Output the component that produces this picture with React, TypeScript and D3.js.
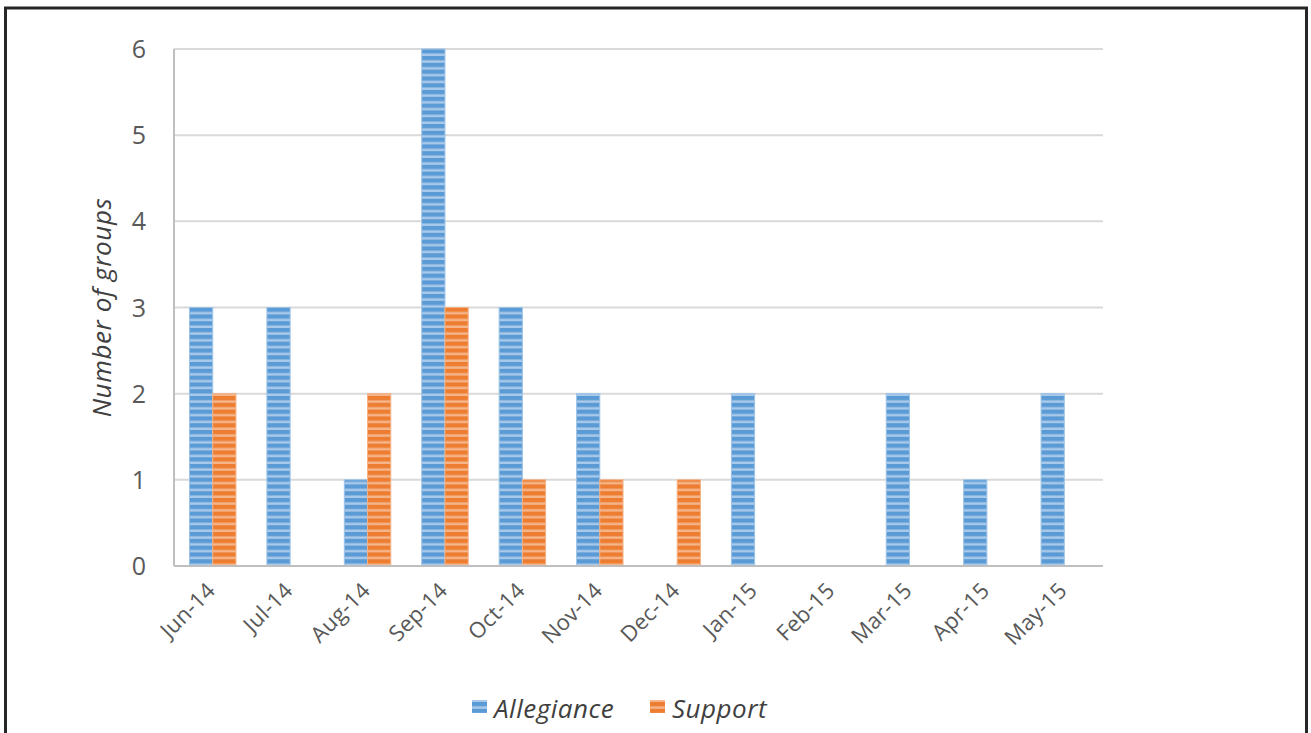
import React from "react";
import * as d3 from "d3";

const categories = ["Jun-14","Jul-14","Aug-14","Sep-14","Oct-14","Nov-14","Dec-14","Jan-15","Feb-15","Mar-15","Apr-15","May-15"];
const allegiance = [3,3,1,6,3,2,0,2,0,2,1,2];
const support = [2,0,2,3,1,1,1,0,0,0,0,0];
const seriesNames = ["Allegiance","Support"];
const yTicks = [0,1,2,3,4,5,6];

const W = 1311, H = 733;
const M = { left: 174, right: 1103, top: 49, bottom: 566 };
const FONT = "'Open Sans', sans-serif";

export default function App() {
  const x = d3.scaleBand<string>().domain(categories).range([M.left, M.right]).paddingInner(0.4).paddingOuter(0.2);
  const x1 = d3.scaleBand<string>().domain(seriesNames).range([0, x.bandwidth()]);
  const y = d3.scaleLinear().domain([0, 6]).range([M.bottom, M.top]);
  const series = [
    { name: "Allegiance", values: allegiance, fill: "url(#pBlue)", stroke: "#9dc3e6" },
    { name: "Support", values: support, fill: "url(#pOrange)", stroke: "#f4b183" },
  ];
  return (
    <svg width={W} height={H} style={{ position: "absolute", left: 0, top: 0, background: "#fff" }}>
      <defs>
        <pattern id="pBlue" patternUnits="userSpaceOnUse" width="8" height="6.8" y={M.bottom}>
          <rect width="8" height="6.8" fill="#5b9bd5" />
          <rect y="4.3" width="8" height="2.5" fill="#a9c9ea" />
        </pattern>
        <pattern id="pOrange" patternUnits="userSpaceOnUse" width="8" height="6.8" y={M.bottom}>
          <rect width="8" height="6.8" fill="#ed7d31" />
          <rect y="4.3" width="8" height="2.5" fill="#f5b48a" />
        </pattern>
      </defs>
      <rect x={0} y={0} width={W} height={H} fill="#fff" />
      {/* frame */}
      <path d={`M5.5,${H + 5} V8 H1306.5 V${H + 5}`} fill="none" stroke="#262626" strokeWidth={3} />
      {/* gridlines */}
      {yTicks.filter(t => t > 0).map(t => (
        <line key={t} x1={M.left} x2={M.right} y1={y(t)} y2={y(t)} stroke="#d9d9d9" strokeWidth={2} />
      ))}
      {/* bars */}
      {series.map(s => (
        <g key={s.name}>
          {categories.map((c, i) => s.values[i] > 0 ? (
            <rect key={c} x={(x(c) as number) + (x1(s.name) as number)} y={y(s.values[i])}
              width={x1.bandwidth()} height={y(0) - y(s.values[i])}
              fill={s.fill} stroke={s.stroke} strokeWidth={1} />
          ) : null)}
        </g>
      ))}
      {/* axes */}
      <line x1={M.left} x2={M.left} y1={M.top} y2={M.bottom} stroke="#bfbfbf" strokeWidth={2} />
      <line x1={M.left} x2={M.right} y1={M.bottom} y2={M.bottom} stroke="#bfbfbf" strokeWidth={2} />
      {yTicks.map(t => (
        <text key={t} x={146} y={y(t)} dy="0.36em" textAnchor="end" fontFamily={FONT} fontSize={25} fill="#595959">{t}</text>
      ))}
      <text transform={`translate(111,${(M.top + M.bottom) / 2}) rotate(-90)`} textAnchor="middle"
        fontFamily={FONT} fontStyle="italic" fontSize={26} letterSpacing={0.6} fill="#404040">Number of groups</text>
      {categories.map(c => {
        const cx = (x(c) as number) + x.bandwidth() / 2;
        return (
          <text key={c} transform={`translate(${cx + 4},${M.bottom + 26}) rotate(-45)`} textAnchor="end"
            fontFamily={FONT} fontSize={22} letterSpacing={0.3} fill="#595959">{c}</text>
        );
      })}
      {/* legend */}
      {series.map((s, i) => {
        const lx = i === 0 ? 472 : 650;
        return (
          <g key={s.name}>
            <rect x={lx} y={700} width={15} height={13} fill={s.fill} />
            <text x={lx + 22} y={718} fontFamily={FONT} fontStyle="italic" fontSize={26} letterSpacing={0.5} fill="#404040">{s.name}</text>
          </g>
        );
      })}
    </svg>
  );
}
